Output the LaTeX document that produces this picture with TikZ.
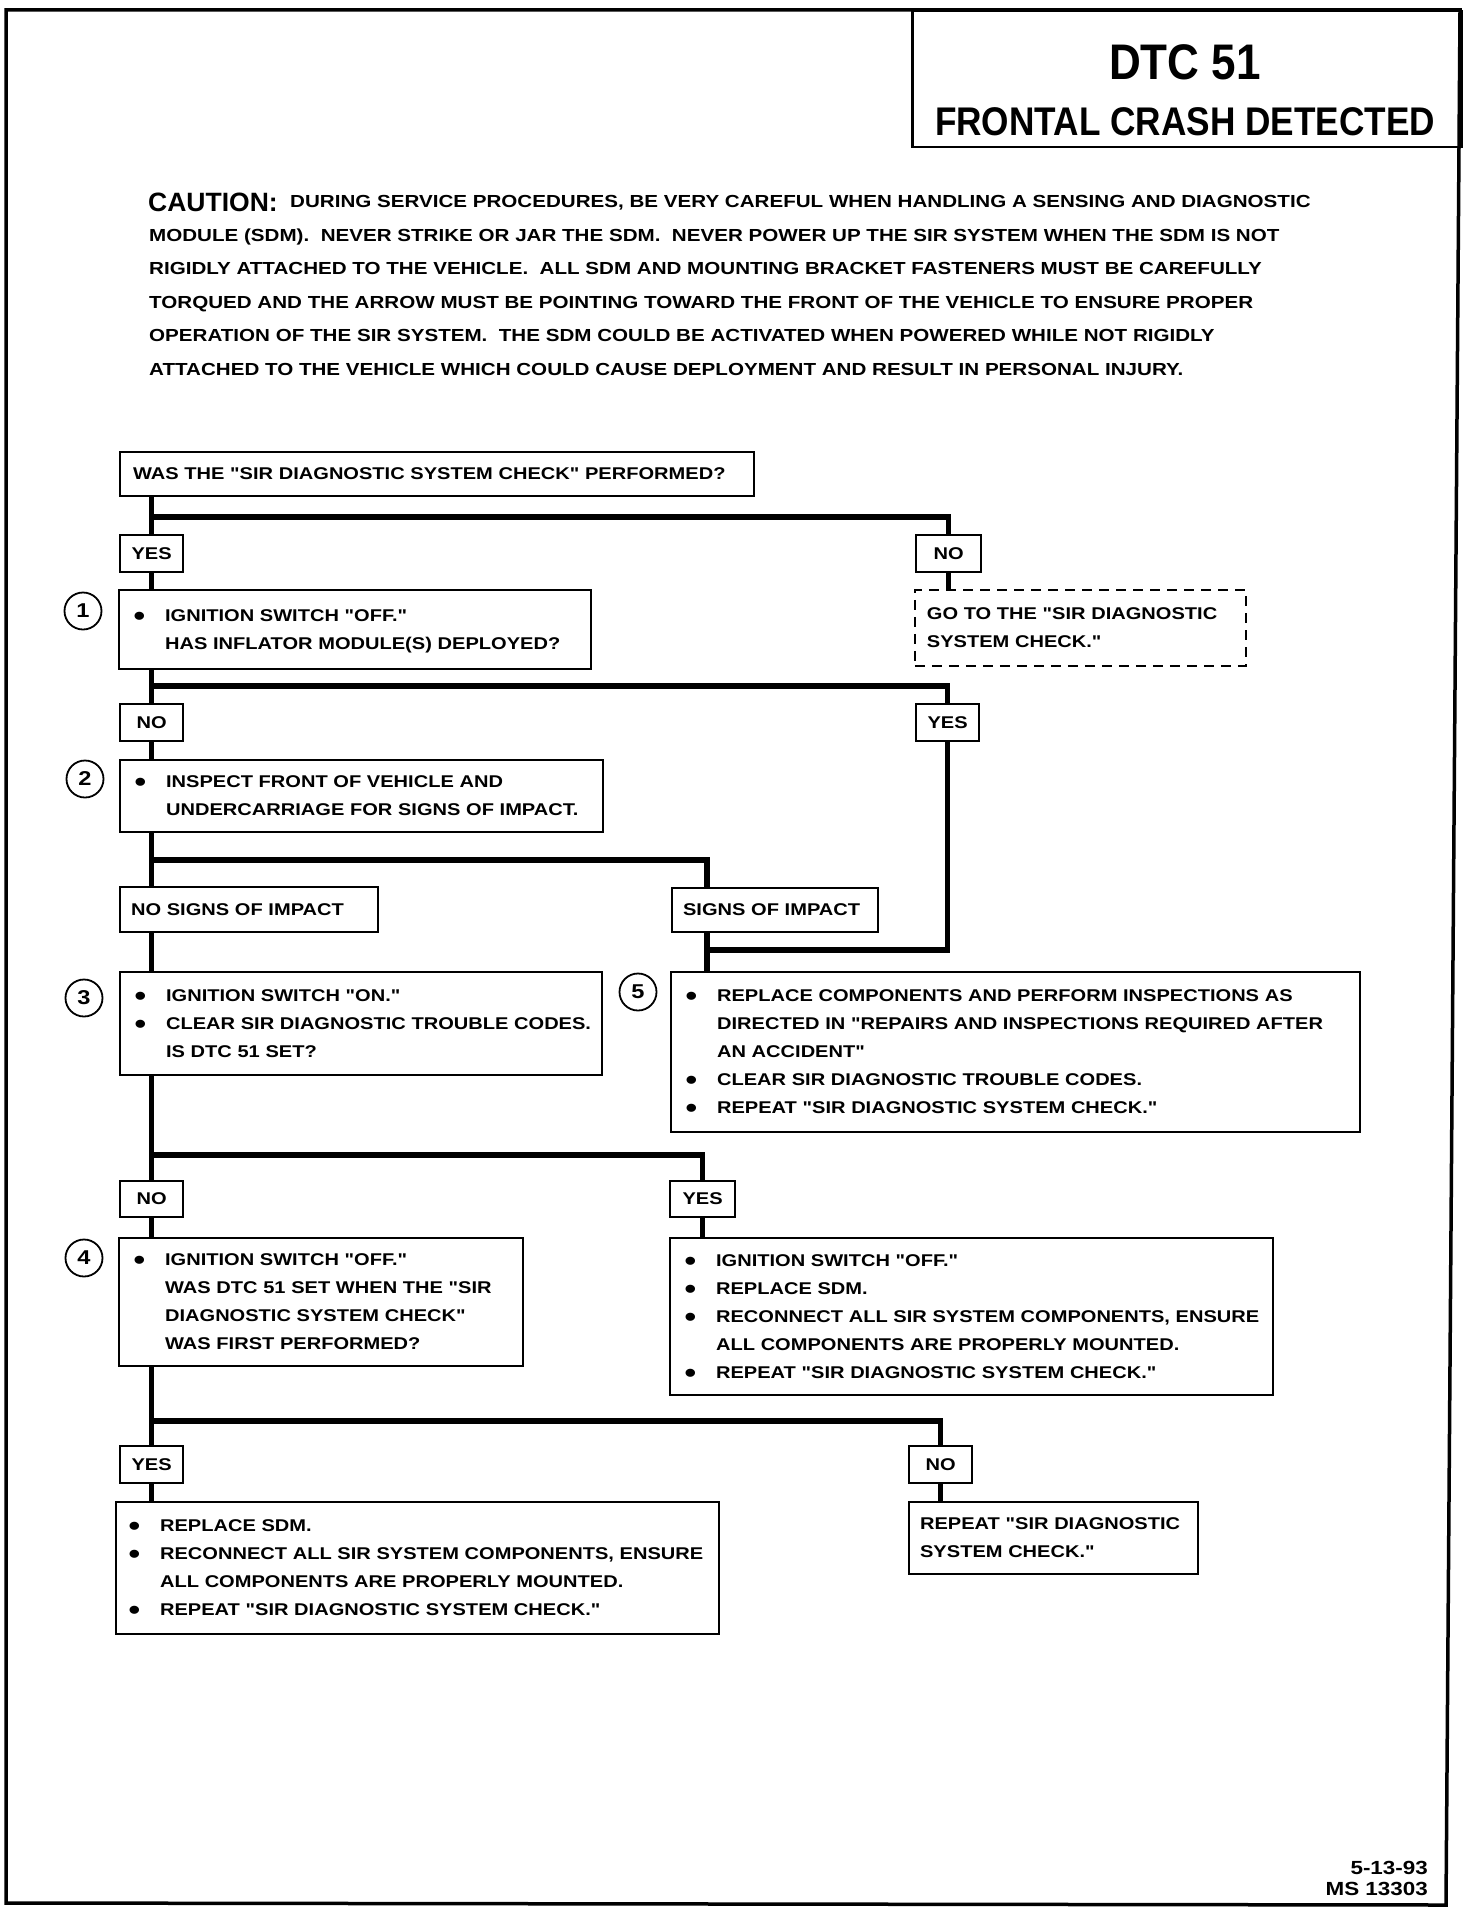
\documentclass[tikz,border=0pt]{standalone}
\usepackage{fontspec}
\usepackage{graphicx}
\setmainfont{Liberation Sans}[FakeStretch=1.18, Ligatures=TeXOff]
\newfontfamily\plainfont{Liberation Sans}[Ligatures=TeXOff]
\newfontfamily\hdrfont{Liberation Sans}[FakeStretch=0.88, Ligatures=TeXOff]
\newcommand{\bul}{\makebox[30.5pt][l]{\hspace*{-1pt}\raisebox{-4pt}{\fontsize{28}{28}\selectfont\textbullet}}}
\newcommand{\ind}{\hspace*{30.5pt}}
\newcommand{\lns}[1]{\begin{tabular}{@{}l@{}}#1\end{tabular}}
\tikzset{
  conn/.style={line width=5.5pt, line join=miter},
  tbox/.style={draw, line width=2.2pt, anchor=north west, inner ysep=0pt,
    font=\bfseries\fontsize{17}{28}\selectfont, align=left},
  lbl/.style={draw, line width=2.2pt, anchor=north west, inner sep=0pt,
    font=\bfseries\fontsize{17}{28}\selectfont},
  dbox/.style={tbox, line width=1.8pt, dash pattern=on 10pt off 7pt},
  num/.style={draw, circle, line width=1.8pt, minimum size=37pt, inner sep=0pt,
    font=\bfseries\fontsize{20}{22}\selectfont},
  cau/.style={anchor=base west, inner sep=0pt, font=\bfseries\fontsize{17.45}{20}\selectfont},
}
\begin{document}
\begin{tikzpicture}[x=1pt, y=-1pt]
\useasboundingbox (0,0) rectangle (1472,1910);
% frame
\draw[line width=3.5pt, line join=miter] (6,10) -- (1460,10) -- (1446,1905) -- (6,1903) -- cycle;
% header
\node[draw, line width=2.5pt, anchor=north west, minimum width=549, minimum height=136, inner sep=0pt] (hdr) at (911,10) {};
\node[inner sep=0pt, font=\hdrfont\bfseries\fontsize{50}{54}\selectfont] (dtc) at (1185,62) {DTC 51};
\node[inner sep=0pt, font=\hdrfont\bfseries\fontsize{40}{44}\selectfont] (fcd) at (1185,122) {FRONTAL CRASH DETECTED};
% caution
\node[anchor=base west, inner sep=0pt, font=\plainfont\bfseries\fontsize{26.5}{30}\selectfont] (cauT) at (148,212) {CAUTION:};
\node[cau] (cau1) at (290,208) {DURING SERVICE PROCEDURES, BE VERY CAREFUL WHEN HANDLING A SENSING AND DIAGNOSTIC};
\node[cau] (cau2) at (149,241.4) {MODULE (SDM).\ \ NEVER STRIKE OR JAR THE SDM.\ \ NEVER POWER UP THE SIR SYSTEM WHEN THE SDM IS NOT};
\node[cau] (cau3) at (149,274.8) {RIGIDLY ATTACHED TO THE VEHICLE.\ \ ALL SDM AND MOUNTING BRACKET FASTENERS MUST BE CAREFULLY};
\node[cau] (cau4) at (149,308.2) {TORQUED AND THE ARROW MUST BE POINTING TOWARD THE FRONT OF THE VEHICLE TO ENSURE PROPER};
\node[cau] (cau5) at (149,341.6) {OPERATION OF THE SIR SYSTEM.\ \ THE SDM COULD BE ACTIVATED WHEN POWERED WHILE NOT RIGIDLY};
\node[cau] (cau6) at (149,375) {ATTACHED TO THE VEHICLE WHICH COULD CAUSE DEPLOYMENT AND RESULT IN PERSONAL INJURY.};
% junction coordinates
\coordinate (j1) at (150.5,517);
\coordinate (j2) at (150.5,686);
\coordinate (j3) at (150.5,860);
\coordinate (j4) at (150.5,1155);
\coordinate (j5) at (150.5,1421);
\coordinate (siT) at (707,887);
\coordinate (siB) at (707,931);
\coordinate (siJ) at (707,950);
% boxes
\node[tbox, minimum width=634, minimum height=44, inner xsep=13, text width=608] (qA) at (119,451)
  {\lns{WAS THE "SIR DIAGNOSTIC SYSTEM CHECK" PERFORMED?}};
\node[lbl, minimum width=63, minimum height=37] (y1) at (119,534) {YES};
\node[lbl, minimum width=65, minimum height=37] (n1) at (915,534) {NO};
\node[tbox, minimum width=472, minimum height=79, inner xsep=15.5, text width=441] (b1) at (118,589)
  {\lns{\bul IGNITION SWITCH "OFF."\\ \ind HAS INFLATOR MODULE(S) DEPLOYED?}};
\node[dbox, minimum width=331, minimum height=76, inner xsep=12, text width=307] (gd) at (914,589)
  {\lns{GO TO THE "SIR DIAGNOSTIC\\ SYSTEM CHECK."}};
\node[lbl, minimum width=63, minimum height=37] (n2) at (119,703) {NO};
\node[lbl, minimum width=63, minimum height=37] (y2) at (915,703) {YES};
\node[tbox, minimum width=483, minimum height=72, inner xsep=15.5, text width=452] (b2) at (119,759)
  {\lns{\bul INSPECT FRONT OF VEHICLE AND\\ \ind UNDERCARRIAGE FOR SIGNS OF IMPACT.}};
\node[tbox, minimum width=258, minimum height=45, inner xsep=11, text width=236] (ns) at (119,886)
  {\lns{NO SIGNS OF IMPACT}};
\node[tbox, minimum width=206, minimum height=44, inner xsep=11, text width=184] (si) at (671,887)
  {\lns{SIGNS OF IMPACT}};
\node[tbox, minimum width=482, minimum height=103, inner xsep=15.5, text width=451] (b3) at (119,971)
  {\lns{\bul IGNITION SWITCH "ON."\\ \bul CLEAR SIR DIAGNOSTIC TROUBLE CODES.\\ \ind IS DTC 51 SET?}};
\node[tbox, minimum width=689, minimum height=160, inner xsep=15.5, text width=658] (b5) at (670,971)
  {\lns{\bul REPLACE COMPONENTS AND PERFORM INSPECTIONS AS\\ \ind DIRECTED IN "REPAIRS AND INSPECTIONS REQUIRED AFTER\\ \ind AN ACCIDENT"\\ \bul CLEAR SIR DIAGNOSTIC TROUBLE CODES.\\ \bul REPEAT "SIR DIAGNOSTIC SYSTEM CHECK."}};
\node[lbl, minimum width=63, minimum height=36] (n3) at (119,1180) {NO};
\node[lbl, minimum width=65, minimum height=36] (y3) at (669,1180) {YES};
\node[tbox, minimum width=404, minimum height=128, inner xsep=15.5, text width=373] (b4) at (118,1237)
  {\lns{\bul IGNITION SWITCH "OFF."\\ \ind WAS DTC 51 SET WHEN THE "SIR\\ \ind DIAGNOSTIC SYSTEM CHECK"\\ \ind WAS FIRST PERFORMED?}};
\node[tbox, minimum width=603, minimum height=157, inner xsep=15.5, text width=572] (b6) at (669,1237)
  {\lns{\bul IGNITION SWITCH "OFF."\\ \bul REPLACE SDM.\\ \bul RECONNECT ALL SIR SYSTEM COMPONENTS, ENSURE\\ \ind ALL COMPONENTS ARE PROPERLY MOUNTED.\\ \bul REPEAT "SIR DIAGNOSTIC SYSTEM CHECK."}};
\node[lbl, minimum width=63, minimum height=37] (y4) at (119,1445) {YES};
\node[lbl, minimum width=63, minimum height=37] (n4) at (908,1445) {NO};
\node[tbox, minimum width=603, minimum height=132, inner xsep=13.5, text width=576] (b7) at (115,1501)
  {\lns{\bul REPLACE SDM.\\ \bul RECONNECT ALL SIR SYSTEM COMPONENTS, ENSURE\\ \ind ALL COMPONENTS ARE PROPERLY MOUNTED.\\ \bul REPEAT "SIR DIAGNOSTIC SYSTEM CHECK."}};
\node[tbox, minimum width=289, minimum height=72, inner xsep=11, text width=267] (b8) at (908,1501)
  {\lns{REPEAT "SIR DIAGNOSTIC\\ SYSTEM CHECK."}};
% step numbers
\node[num] (c1) at (83,611) {1};
\node[num] (c2) at (85,779) {2};
\node[num] (c3) at (84,998) {3};
\node[num] (c4) at (84,1258) {4};
\node[num] (c5) at (638,992) {5};
% connectors
\draw[conn] (qA.south -| y1.north) -- (y1.north);
\draw[conn] (j1) -| (n1.north);
\draw[conn] (y1.south) -- (y1.south |- b1.north);
\draw[conn] (n1.south) -- (n1.south |- gd.north);
\draw[conn] (b1.south -| n2.north) -- (n2.north);
\draw[conn] (j2) -| (y2.north);
\draw[conn] (n2.south) -- (n2.south |- b2.north);
\draw[conn] (b2.south -| n2.north) -- (ns.north -| n2.north);
\draw[conn] (j3) -| (siT);
\draw[conn] (ns.south -| n2.north) -- (b3.north -| n2.north);
\draw[conn] (siB) -- (siB |- b5.north);
\draw[conn] (y2.south) |- (siJ);
\draw[conn] (b3.south -| n3.north) -- (n3.north);
\draw[conn] (j4) -| (y3.north);
\draw[conn] (n3.south) -- (n3.south |- b4.north);
\draw[conn] (y3.south) -- (y3.south |- b6.north);
\draw[conn] (b4.south -| y4.north) -- (y4.north);
\draw[conn] (j5) -| (n4.north);
\draw[conn] (y4.south) -- (y4.south |- b7.north);
\draw[conn] (n4.south) -- (n4.south |- b8.north);
% footer
\node[anchor=east, inner sep=0pt, font=\bfseries\fontsize{19}{22}\selectfont] (f1) at (1428,1868) {5-13-93};
\node[anchor=east, inner sep=0pt, font=\bfseries\fontsize{19}{22}\selectfont] (f2) at (1428,1889) {MS 13303};
\end{tikzpicture}
\end{document}
